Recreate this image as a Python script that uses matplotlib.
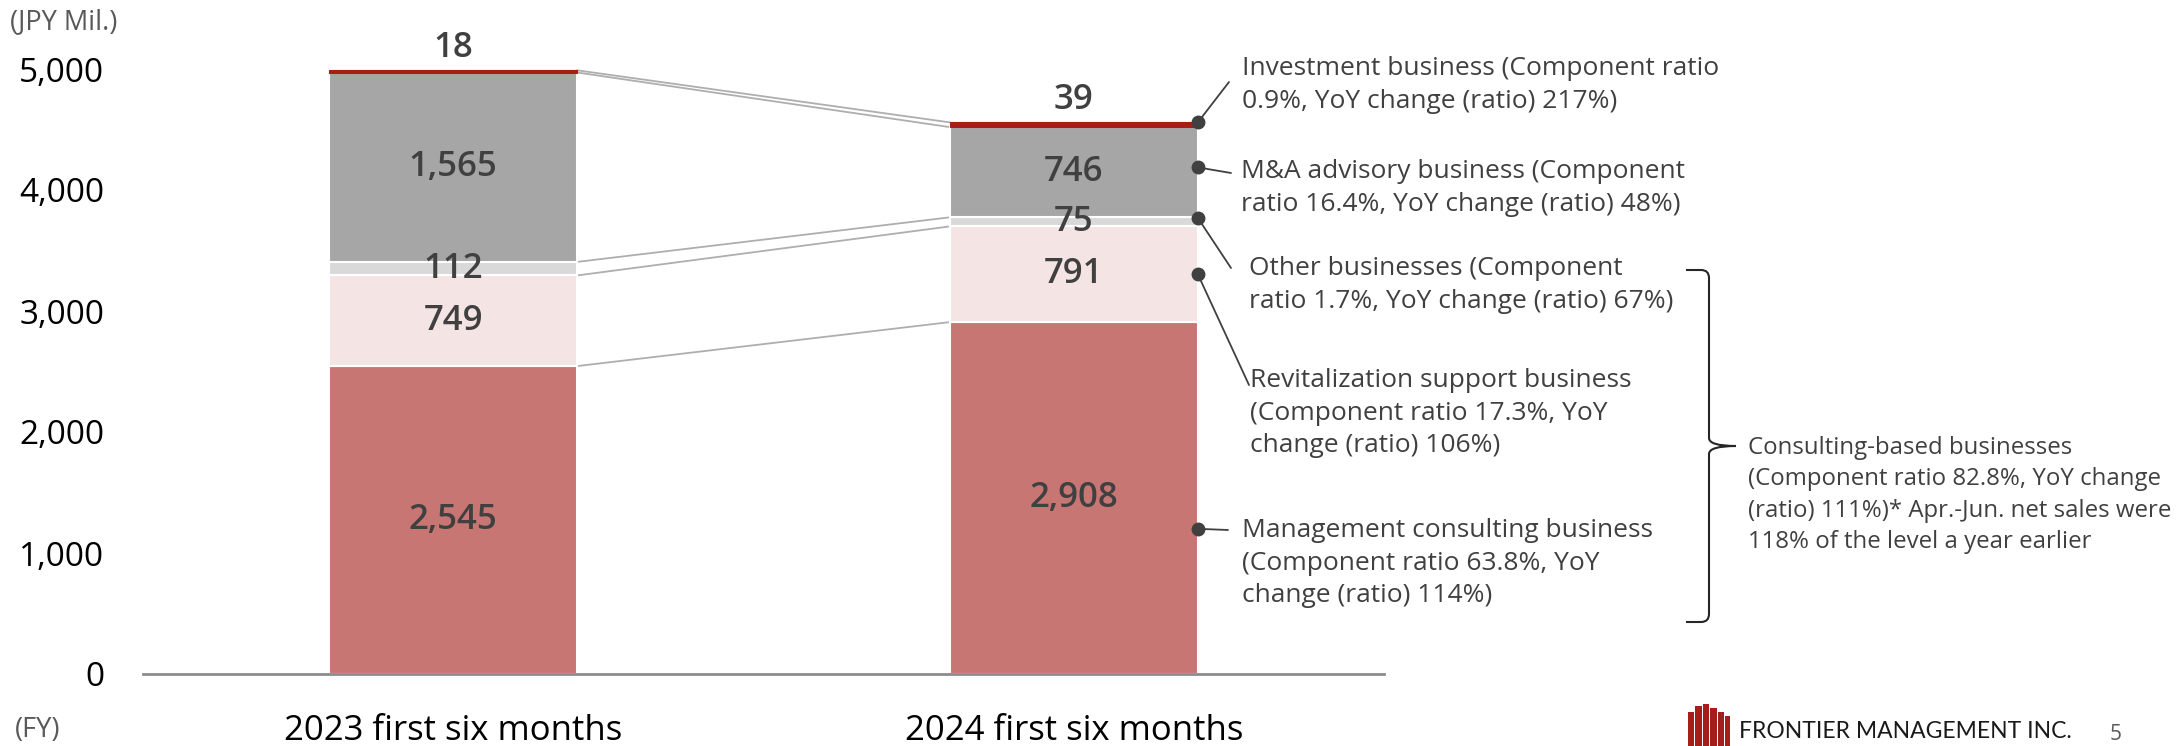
import matplotlib
matplotlib.use("Agg")
import matplotlib.pyplot as plt
from matplotlib.patches import Rectangle
from matplotlib.path import Path
from matplotlib.patches import PathPatch

# ---------------- data ----------------
categories = ["2023 first six months", "2024 first six months"]
segment_names = ["Management consulting", "Revitalization support", "Other", "M&A advisory", "Investment"]
mgmt = [2545, 2908]
revit = [749, 791]
other = [112, 75]
ma = [1565, 746]
invest = [18, 39]
y_ticks = [0, 1000, 2000, 3000, 4000, 5000]

annotation_texts = [
    "Management consulting business\n(Component ratio 63.8%, YoY\nchange (ratio) 114%)",
    "Revitalization support business\n(Component ratio 17.3%, YoY\nchange (ratio) 106%)",
    "Other businesses (Component\nratio 1.7%, YoY change (ratio) 67%)",
    "M&A advisory business (Component\nratio 16.4%, YoY change (ratio) 48%)",
    "Investment business (Component ratio\n0.9%, YoY change (ratio) 217%)",
]
consulting_text = ("Consulting-based businesses\n(Component ratio 82.8%, YoY change\n"
                   "(ratio) 111%)* Apr.-Jun. net sales were\n118% of the level a year earlier")

# ---------------- style ----------------
W, H = 2183, 746
FONT = "Open Sans"
plt.rcParams["font.family"] = [FONT, "DejaVu Sans"]
colors = ["#C87673", "#F5E4E4", "#D9D9D9", "#A6A6A6", "#A5200F"]
TXT = "#404040"

fig = plt.figure(figsize=(W / 100, H / 100), dpi=100)
ax = fig.add_axes([143 / W, 1 - 674 / H, (1384 - 143) / W, (674 - 69) / H])

series = [mgmt, revit, other, ma, invest]
x = [0, 1]
bw = 0.4
bottoms = [0, 0]
tops_per_level = []
mids = []
for i, vals in enumerate(series):
    ec = "white" if i < 4 else colors[i]
    ax.bar(x, vals, bottom=bottoms, width=bw, color=colors[i], edgecolor=ec,
           linewidth=1.5 if i < 4 else 0.8, zorder=2)
    mids.append([b + v / 2 for b, v in zip(bottoms, vals)])
    bottoms = [b + v for b, v in zip(bottoms, vals)]
    tops_per_level.append(list(bottoms))

# value labels
for i, vals in enumerate(series):
    for j in range(2):
        if i < 4:
            ax.text(x[j], mids[i][j], f"{vals[j]:,}", ha="center", va="center",
                    fontsize=25, color=TXT, fontweight="semibold", zorder=4)
        else:
            ax.annotate(f"{vals[j]:,}", (x[j], tops_per_level[i][j]), xytext=(0, 4),
                        textcoords="offset points", ha="center", va="bottom",
                        fontsize=25, color=TXT, fontweight="semibold")

# connector lines
for lvl in tops_per_level:
    ax.plot([x[0] + bw / 2, x[1] - bw / 2], [lvl[0], lvl[1]], color="#AEAEAE",
            lw=1.3, zorder=1)

ax.set_xlim(-0.5, 1.5)
ax.set_ylim(0, 5000)
ax.set_yticks(y_ticks)
ax.set_yticklabels([f"{t:,}" for t in y_ticks], fontsize=24, color="black")
ax.set_xticks(x)
ax.set_xticklabels(categories, fontsize=25, color="black")
ax.tick_params(axis="y", length=0, pad=28)
ax.tick_params(axis="x", length=0, pad=29)
for s in ["top", "right", "left"]:
    ax.spines[s].set_visible(False)
ax.spines["bottom"].set_color("#8C8C8C")
ax.spines["bottom"].set_linewidth(2)

# ---------------- annotations on 2024 bar ----------------
def fx(px):
    return px / W

def fy(py):
    return 1 - py / H

anchor_values = [1200, mids[1][1], tops_per_level[2][1] - 5, mids[3][1] + 40, tops_per_level[4][1]]
line_ends = [(1228, 530), (1249, 385), (1231, 268), (1231, 173), (1229, 82)]
text_pos = [(1242, 563), (1250, 413), (1249, 285), (1241, 188), (1242, 85)]
xr = x[1] + bw / 2
for k in range(5):
    ax.plot([xr], [anchor_values[k]], "o", color=TXT, ms=9, zorder=5, clip_on=False)
    ax.annotate("", xy=(xr, anchor_values[k]), xycoords="data",
                xytext=(fx(line_ends[k][0]), fy(line_ends[k][1])), textcoords="figure fraction",
                arrowprops=dict(arrowstyle="-", color=TXT, lw=1.3, shrinkA=0, shrinkB=0))
    fig.text(fx(text_pos[k][0]), fy(text_pos[k][1]), annotation_texts[k], ha="left",
             va="center", fontsize=19, color=TXT, linespacing=1.38)

# brace
bx0, bx1, bt, bb, bm, btip = 1686, 1709, 270, 622, 446, 1736
r = 8
verts = [(bx0, bt), (bx1 - r, bt), (bx1, bt), (bx1, bt + r), (bx1, bm - r), (bx1, bm), (btip, bm),
         (bx1, bm), (bx1, bm + r), (bx1, bb - r), (bx1, bb), (bx1 - r, bb), (bx0, bb)]
verts = [(fx(a), fy(b)) for a, b in verts]
codes = [Path.MOVETO, Path.LINETO, Path.CURVE3, Path.CURVE3, Path.LINETO, Path.CURVE3, Path.CURVE3,
         Path.CURVE3, Path.CURVE3, Path.LINETO, Path.CURVE3, Path.CURVE3, Path.LINETO]
fig.add_artist(PathPatch(Path(verts, codes), transform=fig.transFigure, fill=False,
                         edgecolor="#262626", lw=1.5))
fig.text(fx(1748), fy(495), consulting_text, ha="left", va="center", fontsize=17.3,
         color=TXT, linespacing=1.4)

# ---------------- misc texts ----------------
fig.text(fx(10), fy(22), "(JPY Mil.)", ha="left", va="center", fontsize=19.5, color="#595959")
fig.text(fx(15), fy(730), "(FY)", ha="left", va="center", fontsize=19.5, color="#595959")
fig.text(fx(2116), fy(735), "5", ha="center", va="center", fontsize=15, color="#595959")
fig.text(fx(1739), fy(732), "FRONTIER MANAGEMENT INC.", ha="left", va="center",
         fontsize=16.5, color="#1A1A1A", family=["Lato", "DejaVu Sans"])
# logo icon
logo_bars = [(1688, 712, 6), (1695, 706, 7), (1703, 704, 6), (1710, 708, 7), (1718, 712, 6), (1725, 716, 5)]
for lx, ly, lw_ in logo_bars:
    fig.add_artist(Rectangle((fx(lx), fy(746)), lw_ / W, (746 - ly) / H,
                             transform=fig.transFigure, color="#A51D1D", lw=0))

fig.savefig("out.png", dpi=100)
